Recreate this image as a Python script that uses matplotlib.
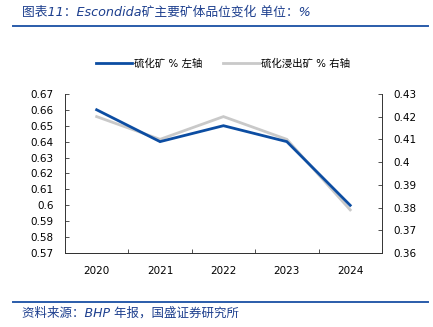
import matplotlib
matplotlib.use('Agg')
import matplotlib.pyplot as plt
from matplotlib.lines import Line2D

plt.rcParams['font.family'] = ['DejaVu Sans', 'Noto Sans CJK SC']

# data
years = ['2020', '2021', '2022', '2023', '2024']
sulfide = [0.66, 0.64, 0.65, 0.64, 0.60]          # left axis
leach = [0.42, 0.41, 0.42, 0.41, 0.379]           # right axis
left_ticks = [0.57, 0.58, 0.59, 0.60, 0.61, 0.62, 0.63, 0.64, 0.65, 0.66, 0.67]
left_labels = ['0.57', '0.58', '0.59', '0.6', '0.61', '0.62', '0.63', '0.64',
               '0.65', '0.66', '0.67']
right_ticks = [0.36, 0.37, 0.38, 0.39, 0.40, 0.41, 0.42, 0.43]
right_labels = ['0.36', '0.37', '0.38', '0.39', '0.4', '0.41', '0.42', '0.43']

BLUE = '#0c4da2'
GRAY = '#c9c9c9'
TITLE_C = '#1d3f8e'

fig = plt.figure(figsize=(4.33, 3.27), dpi=100)
ax = fig.add_axes([0.150, 0.226, 0.732, 0.487])
ax2 = ax.twinx()

x = list(range(len(years)))
ax.plot(x, sulfide, color=BLUE, lw=2.0, zorder=3, solid_joinstyle='miter')
ax2.plot(x, leach, color=GRAY, lw=2.0, zorder=2, solid_joinstyle='miter')
ax.set_zorder(ax2.get_zorder() + 1)
ax.patch.set_visible(False)

ax.set_xlim(-0.5, 4.5)
ax.set_ylim(0.57, 0.67)
ax2.set_ylim(0.36, 0.43)
ax.set_xticks(x)
ax.set_xticklabels(years, fontsize=7.5)
ax.set_xticks([i - 0.5 for i in range(len(years) + 1)], minor=True)
ax.tick_params(axis='x', which='major', length=0, pad=9)
ax.tick_params(axis='x', which='minor', direction='in', length=3, width=0.6, color='#333333')
ax.set_yticks(left_ticks)
ax.set_yticklabels(left_labels, fontsize=7.5)
ax2.set_yticks(right_ticks)
ax2.set_yticklabels(right_labels, fontsize=7.5)
ax.tick_params(axis='y', direction='in', length=3, width=0.6, pad=8, colors='#333333')
ax2.tick_params(axis='y', direction='in', length=3, width=0.6, pad=8, colors='#333333')
for tl in ax.get_yticklabels() + ax2.get_yticklabels() + ax.get_xticklabels():
    tl.set_color('black')

for a in (ax, ax2):
    a.spines['top'].set_visible(False)
    for s in ('left', 'right', 'bottom'):
        a.spines[s].set_linewidth(0.7)
        a.spines[s].set_color('#333333')
ax.spines['right'].set_visible(False)
ax2.spines['left'].set_visible(False)

# legend
handles = [Line2D([], [], color=BLUE, lw=2.0), Line2D([], [], color=GRAY, lw=2.0)]
fig.legend(handles, ['硫化矿 % 左轴', '硫化浸出矿 % 右轴'], loc='center',
           bbox_to_anchor=(0.515, 0.805), ncol=2, frameon=False, fontsize=7.5,
           handlelength=3.45, columnspacing=2.0, handletextpad=0.2)

# title and source
fig.text(0.051, 0.962, '图表11：Escondida矿主要矿体品位变化 单位：%', fontsize=9.2,
         style='italic', color=TITLE_C, va='center', ha='left')
fig.add_artist(Line2D([0.03, 0.988], [0.921, 0.921], color='#2a5caa', lw=1.4))
fig.add_artist(Line2D([0.03, 0.988], [0.077, 0.077], color='#2a5caa', lw=1.4))
fig.text(0.051, 0.043, '资料来源：BHP 年报，国盛证券研究所', fontsize=9,
         style='italic', color=TITLE_C, va='center', ha='left')

fig.savefig('out.png', dpi=100)
